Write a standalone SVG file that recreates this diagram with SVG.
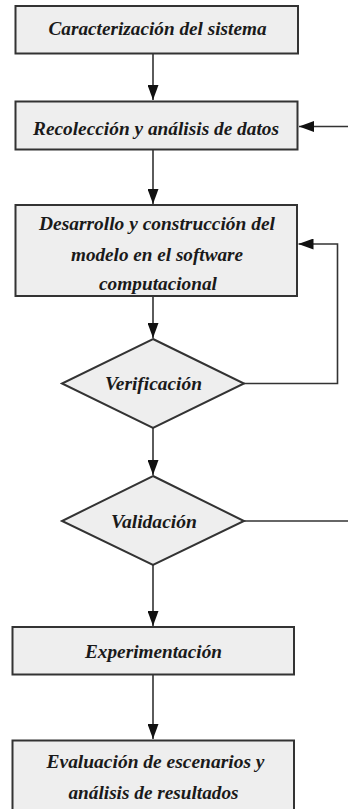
<svg xmlns="http://www.w3.org/2000/svg" width="348" height="809" viewBox="0 0 348 809">
  <style>
    .box { fill: #eeeeee; stroke: #333333; stroke-width: 2; }
    .lbl { font-family: "Liberation Serif", "Times New Roman", serif; font-weight: bold; font-style: italic; font-size: 18px; fill: #1a1a1a; text-anchor: middle; }
    .edge { fill: none; stroke: #333333; stroke-width: 1.6; }
  </style>
  <defs>
    <marker id="arrowL" viewBox="0 0 15 11" refX="15" refY="5.5" markerWidth="15" markerHeight="11" markerUnits="userSpaceOnUse" orient="auto">
      <path d="M0,0 L15,5.5 L0,11 Z" fill="#111111"/>
    </marker>
  </defs>

  <rect width="348" height="809" fill="#ffffff"/>

  <g id="connectors">
    <path class="edge" d="M153,54 V100" marker-end="url(#arrowL)"/>
    <path class="edge" d="M348,126.5 H299" marker-end="url(#arrowL)"/>
    <path class="edge" d="M153,150 V204" marker-end="url(#arrowL)"/>
    <path class="edge" d="M153,296 V338" marker-end="url(#arrowL)"/>
    <path class="edge" d="M244,383.5 H337.5 V244 H298.5" marker-end="url(#arrowL)"/>
    <path class="edge" d="M153,427 V475" marker-end="url(#arrowL)"/>
    <path class="edge" d="M244,521 H348"/>
    <path class="edge" d="M153,565 V626" marker-end="url(#arrowL)"/>
    <path class="edge" d="M153,675 V739" marker-end="url(#arrowL)"/>
  </g>

  <g id="caracterizacion">
    <rect class="box" x="15.5" y="6" width="282.5" height="47.5"/>
    <text class="lbl" x="157.5" y="35" textLength="218" lengthAdjust="spacingAndGlyphs">Caracterización del sistema</text>
  </g>

  <g id="recoleccion">
    <rect class="box" x="15.5" y="101.5" width="282" height="48"/>
    <text class="lbl" x="156" y="135" textLength="246" lengthAdjust="spacingAndGlyphs">Recolección y análisis de datos</text>
  </g>

  <g id="desarrollo">
    <rect class="box" x="15.5" y="205" width="281.5" height="91"/>
    <text class="lbl" x="157" y="230" textLength="236" lengthAdjust="spacingAndGlyphs">Desarrollo y construcción del</text>
    <text class="lbl" x="157" y="261" textLength="172" lengthAdjust="spacingAndGlyphs">modelo en el software</text>
    <text class="lbl" x="158" y="290" textLength="118" lengthAdjust="spacingAndGlyphs">computacional</text>
  </g>

  <g id="verificacion">
    <polygon class="box" points="153,339 244,383.5 153,428 62,383.5"/>
    <text class="lbl" x="153.5" y="390" textLength="97" lengthAdjust="spacingAndGlyphs">Verificación</text>
  </g>

  <g id="validacion">
    <polygon class="box" points="153,476 244,521 153,565 62,521"/>
    <text class="lbl" x="154" y="528" textLength="86" lengthAdjust="spacingAndGlyphs">Validación</text>
  </g>

  <g id="experimentacion">
    <rect class="box" x="12.5" y="627" width="281.5" height="47.5"/>
    <text class="lbl" x="153.5" y="658" textLength="137" lengthAdjust="spacingAndGlyphs">Experimentación</text>
  </g>

  <g id="evaluacion">
    <rect class="box" x="12.5" y="740.5" width="281.5" height="80"/>
    <text class="lbl" x="155.5" y="768" textLength="218" lengthAdjust="spacingAndGlyphs">Evaluación de escenarios y</text>
    <text class="lbl" x="153.5" y="799" textLength="170" lengthAdjust="spacingAndGlyphs">análisis de resultados</text>
  </g>
</svg>
